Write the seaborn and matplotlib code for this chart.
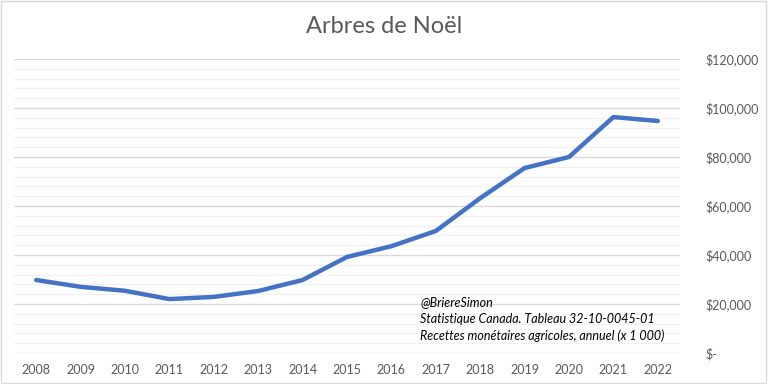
import numpy as np
import pandas as pd
import seaborn as sns
import matplotlib.pyplot as plt
from matplotlib.ticker import FuncFormatter, MultipleLocator

# Données (x 1 000 $)
annees = ['2008', '2009', '2010', '2011', '2012', '2013', '2014', '2015',
          '2016', '2017', '2018', '2019', '2020', '2021', '2022']
recettes = [29800, 27000, 25400, 22000, 22900, 25300, 29800, 39200,
            43600, 49800, 63200, 75500, 80000, 96300, 94700]

df = pd.DataFrame({'annee': annees, 'recettes': recettes})

sns.set_theme(style='white')
plt.rcParams['font.family'] = ['Lato', 'DejaVu Sans']

fig = plt.figure(figsize=(7.68, 3.84), dpi=100)
ax = fig.add_axes([14 / 768, 31 / 384, 666 / 768, 294 / 384])

sns.lineplot(data=df, x='annee', y='recettes', ax=ax, color='#4472C4',
             linewidth=3.2, sort=False)

ax.set_xlim(-0.5, len(annees) - 0.5)
ax.set_ylim(0, 120000)
ax.yaxis.set_major_locator(MultipleLocator(20000))
ax.yaxis.set_minor_locator(MultipleLocator(4000))
ax.grid(which='major', axis='y', color='#d9d9d9', linewidth=1)
ax.grid(which='minor', axis='y', color='#f0f0f0', linewidth=1)
ax.set_axisbelow(True)

def fmt(v, pos):
    return '$-' if v == 0 else f'${v:,.0f}'

ax.yaxis.set_major_formatter(FuncFormatter(fmt))
ax.yaxis.tick_right()
ax.tick_params(axis='y', which='both', length=0, pad=18, labelsize=9, labelcolor='#595959')
ax.tick_params(axis='x', length=0, pad=8, labelsize=9, labelcolor='#595959')
ax.set_xlabel('')
ax.set_ylabel('')
for s in ax.spines.values():
    s.set_visible(False)

fig.text(0.5, 0.93, 'Arbres de Noël', ha='center', va='center',
         fontsize=17, color='#595959', fontweight='normal')

notes = ['@BriereSimon',
         'Statistique Canada. Tableau 32-10-0045-01',
         'Recettes monétaires agricoles, annuel (x 1 000)']
for i, t in enumerate(notes):
    fig.text(420 / 768, 1 - (302 + 17 * i) / 384, t, ha='left', va='center',
             fontsize=9, style='italic', color='black')

fig.patches.append(plt.Rectangle((0.001, 0.002), 0.997, 0.995, transform=fig.transFigure,
                                 fill=False, edgecolor='#d9d9d9', linewidth=1))

fig.savefig('out.png', dpi=100)
